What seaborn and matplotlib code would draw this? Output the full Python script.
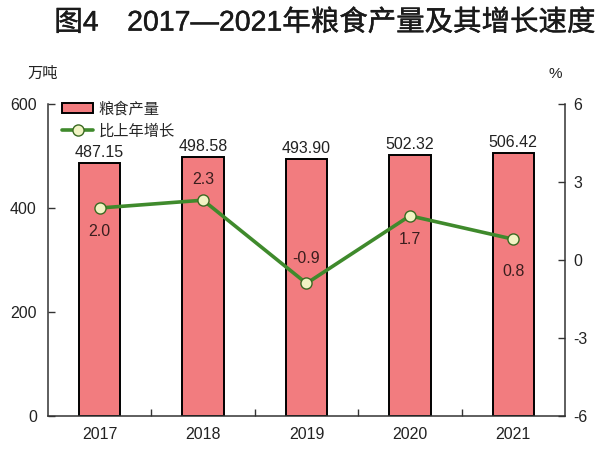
import matplotlib
matplotlib.use("Agg")
import matplotlib.pyplot as plt
import matplotlib.patheffects as pe
import seaborn as sns
import numpy as np
import pandas as pd
from matplotlib.patches import Patch
from matplotlib.lines import Line2D
from matplotlib.ticker import FixedLocator

# ---- data ----
years = ["2017", "2018", "2019", "2020", "2021"]
output = [487.15, 498.58, 493.90, 502.32, 506.42]
output_labels = ["487.15", "498.58", "493.90", "502.32", "506.42"]
growth = [2.0, 2.3, -0.9, 1.7, 0.8]
growth_labels = ["2.0", "2.3", "-0.9", "1.7", "0.8"]
left_ticks = [0, 200, 400, 600]
right_ticks = [-6, -3, 0, 3, 6]
title = "图4\u30002017—2021年粮食产量及其增长速度"
legend_labels = ["粮食产量", "比上年增长"]

# label offsets (points) for growth labels: negative = below marker
growth_offsets = [-17, 15, 18, -17, -23]

sns.set_style("ticks")
plt.rcParams["font.family"] = ["Liberation Sans", "Noto Sans CJK SC", "DejaVu Sans"]

BAR = "#f27c7f"
GREEN = "#3f8a2c"
MFACE = "#f1f4c4"
MEDGE = "#3a6a22"
TXT = "#222222"
SPINE = "#333333"

df = pd.DataFrame({"year": years, "output": output, "growth": growth})

fig = plt.figure(figsize=(6.12, 4.63), dpi=100)
ax = fig.add_axes([0.0784, 0.1015, 0.8448, 0.6739])

sns.barplot(data=df, x="year", y="output", color=BAR, saturation=1,
            edgecolor="black", linewidth=1.4, width=0.4, ax=ax, zorder=2)
ax.set_ylim(0, 600)
ax.set_xlim(-0.5, len(years) - 0.5)
ax.set_xlabel("")
ax.set_ylabel("")

for i, (v, lab) in enumerate(zip(output, output_labels)):
    ax.annotate(lab, (i, v), xytext=(0, 2), textcoords="offset points",
                ha="center", va="bottom", fontsize=11.5, color=TXT)

ax2 = ax.twinx()
sns.pointplot(data=df, x="year", y="growth", ax=ax2, color=GREEN,
              errorbar=None, markers="o", linestyles="-", zorder=4)
for ln in ax2.lines:
    ln.set_color(GREEN)
    ln.set_linewidth(2.6)
    ln.set_marker("o")
    ln.set_markersize(8)
    ln.set_markerfacecolor(MFACE)
    ln.set_markeredgecolor(MEDGE)
    ln.set_markeredgewidth(1.0)
ax2.set_ylim(-6, 6)
ax2.set_xlim(-0.5, len(years) - 0.5)
ax2.set_ylabel("")
ax2.set_xlabel("")

for i, (v, lab, off) in enumerate(zip(growth, growth_labels, growth_offsets)):
    ax2.annotate(lab, (i, v), xytext=(0, off), textcoords="offset points",
                 ha="center", va="center", fontsize=11.5, color="#3a1e1e")

# ticks / spines
ax.set_yticks(left_ticks)
ax.set_yticklabels([str(t) for t in left_ticks], fontsize=11.5, color=TXT)
ax2.set_yticks(right_ticks)
ax2.set_yticklabels([str(t) for t in right_ticks], fontsize=11.5, color=TXT)
ax.set_xticks(range(len(years)))
ax.set_xticklabels(years, fontsize=11.5, color=TXT)
ax.tick_params(axis="x", length=0, pad=8)
ax.xaxis.set_minor_locator(FixedLocator([0.5, 1.5, 2.5, 3.5]))
ax.tick_params(axis="x", which="minor", direction="in", length=5, width=1, color=SPINE)
ax.tick_params(axis="y", direction="in", length=5, width=1, color=SPINE, pad=8)
ax2.tick_params(axis="y", direction="in", length=5, width=1, color=SPINE, pad=6)

for a in (ax, ax2):
    a.spines["top"].set_visible(False)
    for s in ("left", "right", "bottom"):
        a.spines[s].set_color(SPINE)
        a.spines[s].set_linewidth(1.1)
ax.spines["right"].set_visible(False)
ax2.spines["left"].set_visible(False)
ax2.spines["bottom"].set_visible(False)

# legend
handles = [
    Patch(facecolor=BAR, edgecolor="black", linewidth=1.4),
    Line2D([0], [0], color=GREEN, linewidth=2.6, marker="o", markersize=8,
           markerfacecolor=MFACE, markeredgecolor=MEDGE),
]
leg = ax2.legend(handles, legend_labels, loc="upper left",
                 bbox_to_anchor=(0.028, 1.008), frameon=False, fontsize=11,
                 handlelength=2.0, handleheight=0.7, handletextpad=0.35,
                 labelspacing=0.5, borderpad=0, borderaxespad=0)

# unit labels and title
fig.text(0.069, 0.840, "万吨", ha="center", va="center", fontsize=11, color=TXT)
fig.text(0.907, 0.840, "%", ha="center", va="center", fontsize=11, color=TXT)
fig.text(0.531, 0.950, title, ha="center", va="center", fontsize=20.5,
         fontweight="normal", color="#1a1a1a",
         family=["Liberation Sans", "Noto Sans CJK SC"],
         path_effects=[pe.withStroke(linewidth=0.3, foreground="#1a1a1a")])

fig.savefig("out.png", dpi=100)
